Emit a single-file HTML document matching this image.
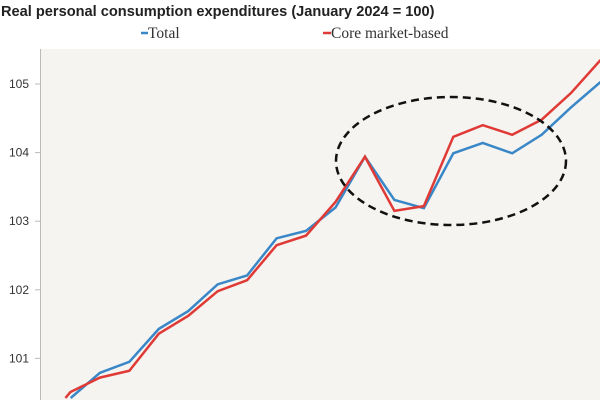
<!DOCTYPE html>
<html><head><meta charset="utf-8"><style>
html,body{margin:0;padding:0;background:#fff;overflow:hidden;width:600px;height:400px;}
svg{display:block;}
</style></head><body>
<svg width="600" height="400" viewBox="0 0 600 400" xmlns="http://www.w3.org/2000/svg">
<defs><clipPath id="plotclip"><rect x="41" y="49" width="559" height="351"/></clipPath></defs>
<rect x="41" y="49" width="559" height="351" fill="#f5f4f0"/>
<text x="1" y="16" font-family="Liberation Sans, sans-serif" font-weight="bold" font-size="14.6" fill="#222">Real personal consumption expenditures (January 2024 = 100)</text>
<g>
<g><line x1="141" y1="33" x2="148" y2="33" stroke="#3a87c8" stroke-width="2.5"/><text x="148" y="38" font-family="Liberation Serif, serif" font-size="15.5" fill="#333">Total</text></g>
<g><line x1="323" y1="33" x2="331" y2="33" stroke="#e03a36" stroke-width="2.5"/><text x="331" y="38" font-family="Liberation Serif, serif" font-size="15.5" fill="#333">Core market-based</text></g>
</g>
<line x1="40.5" y1="49" x2="40.5" y2="400" stroke="#bbb" stroke-width="1"/>
<g id="yticks"></g>
<g id="series" clip-path="url(#plotclip)"></g>
<ellipse cx="451" cy="161" rx="115" ry="64" fill="none" stroke="#111" stroke-width="2.5" stroke-dasharray="8,5"/>
</svg>
<script>
const tickValues = [101, 102, 103, 104, 105];
const tickLabels = ["101", "102", "103", "104", "105"];
const totalValues = [100, 100.42, 100.79, 100.95, 101.43, 101.69, 102.08, 102.21, 102.75, 102.86, 103.2, 103.94, 103.31, 103.19, 103.99, 104.14, 103.99, 104.26, 104.66, 105.03];
const coreValues = [100, 100.51, 100.72, 100.82, 101.36, 101.62, 101.98, 102.14, 102.65, 102.79, 103.28, 103.94, 103.15, 103.22, 104.23, 104.4, 104.26, 104.48, 104.87, 105.35];

const NS = "http://www.w3.org/2000/svg";
const BOTTOM = 398;
function xPos(i){ return 41 + 29.45 * i; }
function yPos(v){ return 84 + (105 - v) * 68.6; }

const tg = document.getElementById('yticks');
tickValues.forEach((v, k) => {
  const y = yPos(v);
  const l = document.createElementNS(NS, 'line');
  l.setAttribute('x1', 35); l.setAttribute('x2', 40); l.setAttribute('y1', y); l.setAttribute('y2', y);
  l.setAttribute('stroke', '#bbb');
  
  
  tg.appendChild(l);
  const t = document.createElementNS(NS, 'text');
  t.setAttribute('x', 9); t.setAttribute('y', y + 4);
  t.setAttribute('font-family', 'Liberation Sans, sans-serif');
  t.setAttribute('font-size', '12');
  t.setAttribute('fill', '#333');
  t.textContent = tickLabels[k];
  
  
  tg.appendChild(t);
});

function clippedPoints(vals){
  const raw = vals.map((v, i) => [xPos(i), yPos(v)]);
  const out = [];
  for (let i = 0; i < raw.length; i++) {
    const p = raw[i];
    if (p[1] <= BOTTOM) {
      if (i > 0 && raw[i-1][1] > BOTTOM) {
        const q = raw[i-1];
        const t = (BOTTOM - q[1]) / (p[1] - q[1]);
        out.push([q[0] + t * (p[0] - q[0]), BOTTOM]);
      }
      out.push(p);
    } else if (i > 0 && raw[i-1][1] <= BOTTOM) {
      const q = raw[i-1];
      const t = (BOTTOM - q[1]) / (p[1] - q[1]);
      out.push([q[0] + t * (p[0] - q[0]), BOTTOM]);
    }
  }
  return out;
}

const sg = document.getElementById('series');
function drawLine(vals, color, name){
  const p = document.createElementNS(NS, 'polyline');
  p.setAttribute('points', clippedPoints(vals).map(pt => pt[0].toFixed(2) + ',' + pt[1].toFixed(2)).join(' '));
  p.setAttribute('fill', 'none');
  p.setAttribute('stroke', color);
  p.setAttribute('stroke-width', '2.5');
  p.setAttribute('stroke-linejoin', 'miter');
  
  
  sg.appendChild(p);
}
drawLine(totalValues, '#3a87c8', 'total-line');
drawLine(coreValues, '#e03a36', 'core-market-based-line');
</script>
</body></html>
